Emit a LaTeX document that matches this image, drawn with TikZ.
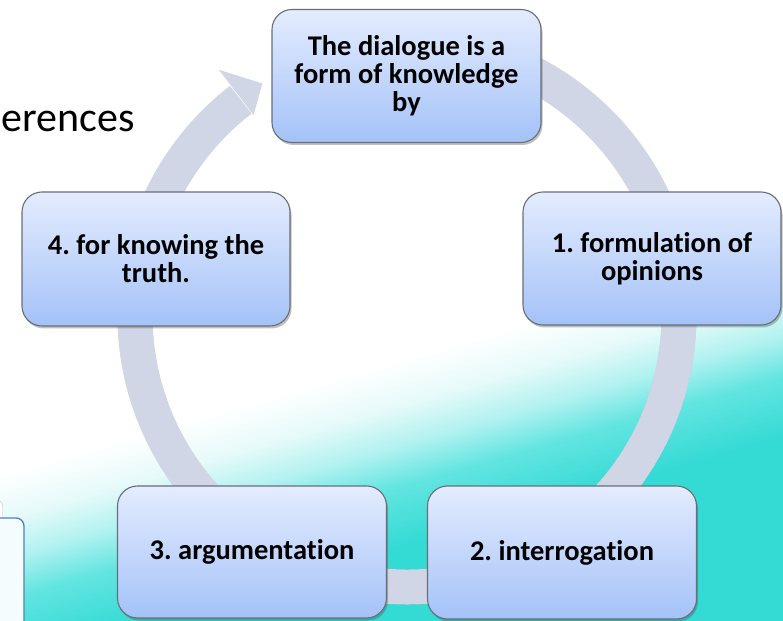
\documentclass[tikz,border=0pt]{standalone}
\usepackage{fontspec}
\setmainfont{Carlito}[Ligatures=NoCommon]
\usepackage{tikz}
\usetikzlibrary{positioning,calc,shadows}
\frenchspacing

\definecolor{ringgray}{RGB}{208,214,229}
\definecolor{boxtop}{RGB}{228,236,254}
\definecolor{boxbottom}{RGB}{164,194,248}
\definecolor{boxline}{RGB}{105,110,118}
\definecolor{seaA}{RGB}{52,218,212}
\definecolor{seaB}{RGB}{100,229,225}
\definecolor{seaC}{RGB}{172,241,239}
\definecolor{seaD}{RGB}{228,250,249}
\definecolor{tabblue}{RGB}{79,129,189}

\begin{document}
\begin{tikzpicture}[
    x=1pt, y=1pt,
    stage/.style={rectangle, rounded corners=20pt, draw=boxline, line width=1.1pt, top color=boxtop, bottom color=boxbottom, minimum width=269pt, minimum height=133pt, align=center, font=\fontsize{28.5}{28}\selectfont\bfseries, drop shadow={shadow xshift=1.5pt, shadow yshift=-2.5pt, opacity=0.35, fill=black!70}},
    ring/.style={draw=ringgray, line width=35pt},
    sea/.style={transform canvas={rotate around={16:(0,0)}}}
]
    % Frame and background
    \useasboundingbox (0,0) rectangle (783,620);
    \clip (0,0) rectangle (783,620);
    \fill[white] (0,0) rectangle (783,620);
    \begin{scope}[sea]
        \fill[seaA] (-400,-400) rectangle (1300,-40);
        \shade[bottom color=seaA, top color=seaB] (-400,-41) rectangle (1300,20);
        \shade[bottom color=seaB, top color=seaC] (-400,19) rectangle (1300,55);
        \shade[bottom color=seaC, top color=seaD] (-400,54) rectangle (1300,95);
        \shade[bottom color=seaD, top color=white] (-400,94) rectangle (1300,140);
    \end{scope}

    % Title fragment and side tab
    \node[anchor=base east, font=\fontsize{42}{48}\selectfont, inner sep=0pt] (title) at (135,488) {erences};
    \draw[gray!50, fill=white, rounded corners=6pt] (-30,10) rectangle (2.5,120);
    \draw[tabblue, line width=1.3pt, fill=white!96!cyan, rounded corners=8pt] (-30,-20) rectangle (24,102);

    % Cycle ring
    \coordinate (hub) at (407,305);
    \draw[ring, draw=black, opacity=0.1, shift={(1,-1.5)}] ([shift={(85:272)}]hub) arc[start angle=85, end angle=-232.3, radius=272];
    \draw[ring] ([shift={(85:272)}]hub) arc[start angle=85, end angle=-232.3, radius=272];
    \fill[ringgray] ([shift={(127.5:309)}]hub) -- ([shift={(122:273)}]hub) -- ([shift={(127.5:252)}]hub) -- cycle;

    % Stages
    \node[stage] (dialogue) at (406.5,544) {The dialogue is a\\form of knowledge\\by};
    \node[stage, minimum width=258pt] (opinions) at (652,361.5) {1. formulation of\\opinions};
    \node[stage] (interrogation) at (562,67.5) {2. interrogation};
    \node[stage, minimum height=132pt] (argumentation) at (252,68) {3. argumentation};
    \node[stage, minimum width=268pt, minimum height=134pt] (truth) at (156,361) {4. for knowing the\\truth.};
\end{tikzpicture}
\end{document}
